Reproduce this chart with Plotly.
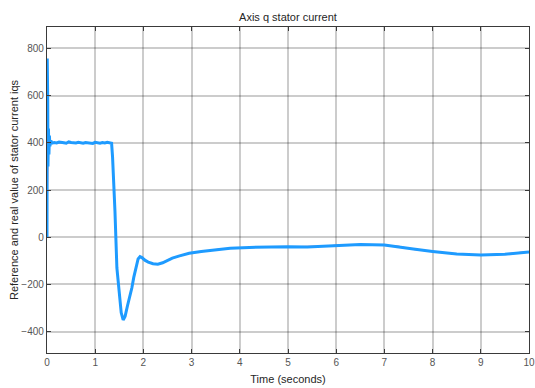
import plotly.graph_objects as go

# ---- data ----
time_s = [0, 0.005, 0.01, 0.015, 0.02, 0.03, 0.04, 0.05, 0.06, 0.08,
          0.1, 0.15, 0.2, 0.25, 0.3, 0.35, 0.4, 0.45, 0.5, 0.55,
          0.6, 0.65, 0.7, 0.75, 0.8, 0.85, 0.9, 0.95, 1.0, 1.05, 1.1, 1.15, 1.2, 1.25, 1.3,
          1.34, 1.36, 1.38, 1.41, 1.45, 1.5, 1.54, 1.58, 1.62, 1.67, 1.72, 1.76, 1.8, 1.85, 1.89,
          1.93, 1.97, 2.03, 2.1, 2.2, 2.3, 2.4, 2.5, 2.6, 2.75, 2.95, 3.2, 3.5, 3.8,
          4.2, 4.6, 5.0, 5.4, 5.8, 6.1, 6.5, 7.0, 7.3, 7.6, 8.0, 8.5, 9.0, 9.5, 10.0]

iq_real = [0, 757, 130, 580, 300, 460, 350, 430, 385, 410,
           398, 401, 399, 403, 400, 400, 398, 404, 401, 400,
           399, 402, 400, 398, 401, 399, 400, 397, 402, 400, 398, 401, 399, 402, 400,
           398, 340, 260, 110, -130, -255, -320, -350, -335, -290, -250, -215, -170, -122, -92,
           -82, -86, -97, -105, -112, -114, -108, -97, -88, -79, -68, -60, -53, -47,
           -43, -40, -40, -41, -37, -33, -31, -33, -40, -50, -60, -71, -75, -72, -62]

iq_ref = [0, 400, 400, 400, 400, 400, 400, 400, 400, 400,
          400, 400, 400, 400, 400, 400, 400, 400, 400, 400,
          400, 400, 400, 400, 400, 400, 400, 400, 400, 400, 400, 400, 400, 400, 400,
          400, 345, 262, 108, -128, -253, -322, -349, -336, -292, -248, -213, -172, -120, -93,
          -83, -85, -96, -106, -111, -115, -107, -98, -87, -80, -67, -61, -52, -47,
          -44, -40, -41, -40, -38, -32, -31, -34, -39, -51, -59, -72, -74, -71, -61]

x_ticks = [0, 1, 2, 3, 4, 5, 6, 7, 8, 9, 10]
y_ticks = [-400, -200, 0, 200, 400, 600, 800]

FONT = "Liberation Sans, Arial, Helvetica, sans-serif"

fig = go.Figure()
fig.add_trace(go.Scatter(x=time_s, y=iq_ref, mode="lines",
                         line=dict(color="#e8404a", width=1.2), showlegend=False))
fig.add_trace(go.Scatter(x=time_s, y=iq_real, mode="lines",
                         line=dict(color="#1e9bff", width=3), showlegend=False))

axis_common = dict(
    showgrid=True, gridcolor="rgba(0,0,0,0.2)", gridwidth=1.5,
    zeroline=False, showline=True, linecolor="#3a3a3a", linewidth=1.3,
    mirror="ticks", ticks="inside", ticklen=4, tickcolor="#3a3a3a",
    tickfont=dict(family=FONT, size=10, color="#555555"),
    ticklabeloverflow="allow", automargin=False,
)

fig.update_layout(
    width=535, height=388,
    margin=dict(l=47, r=6, t=27, b=35, autoexpand=False),
    paper_bgcolor="white", plot_bgcolor="white",
    title=dict(text="Axis q stator current", x=0.5, xref="paper",
               y=1 - 17 / 388, yref="container", yanchor="middle",
               font=dict(family=FONT, size=11, color="#262626")),
    xaxis=dict(range=[0, 10.0001], tickvals=x_ticks, **axis_common,
               title=dict(text="Time (seconds)", standoff=8,
                          font=dict(family=FONT, size=11, color="#262626"))),
    yaxis=dict(range=[-490, 890], tickvals=y_ticks, **axis_common,
               title=dict(text="Reference and real value of stator current iqs", standoff=0,
                          font=dict(family=FONT, size=11, color="#262626"))),
    hovermode=False,
)

fig.write_html("out.html", config={"displayModeBar": False})
